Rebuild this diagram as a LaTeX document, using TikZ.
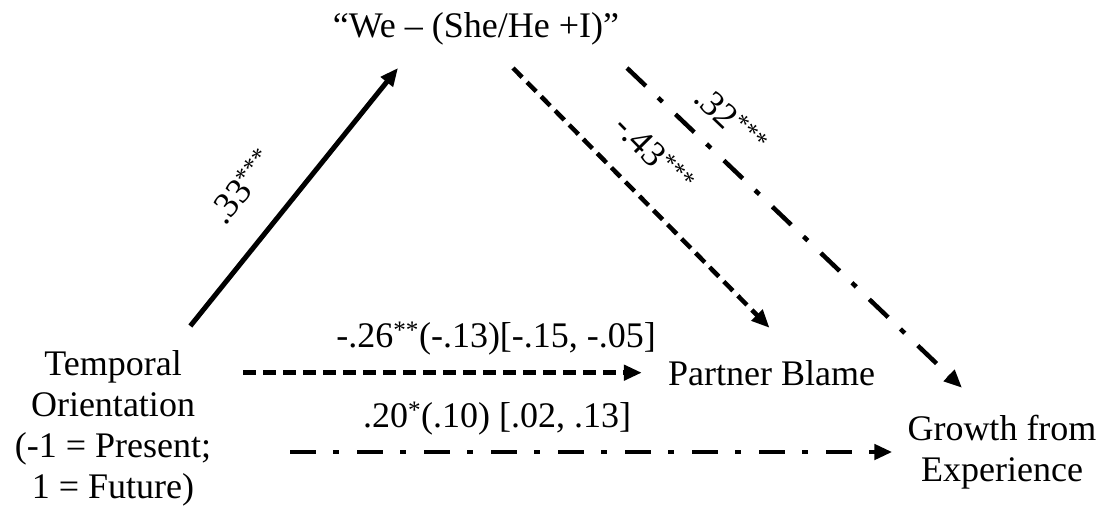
\documentclass[tikz,border=0pt]{standalone}
\usepackage{fontspec}
\setmainfont{Liberation Serif}
\usetikzlibrary{arrows.meta,positioning}
\tikzset{
  var/.style={font=\fontsize{36}{41}\selectfont,align=center,inner sep=2pt},
  coef/.style={font=\fontsize{36}{41}\selectfont,inner sep=2pt},
  direct/.style={line width=5pt,-{Triangle[length=18pt,width=15pt]}},
  dashpath/.style={line width=4.5pt,dash pattern=on 13pt off 7pt,-{Triangle[length=18pt,width=15pt]}},
  dotpath/.style={line width=4.5pt,dash pattern=on 26pt off 17pt on 6pt off 18pt,-{Triangle[length=18pt,width=15pt]}},
}

\begin{document}
\begin{tikzpicture}[x=1pt,y=-1pt]
    \useasboundingbox (0,0) rectangle (1106,517);
    \node[var,anchor=base] (we) at (476,37) {“We – (She/He +I)”};
    \node[var] (temp) at (113,428) {Temporal\\Orientation\\(-1 = Present;\\1 = Future)};
    \node[var,anchor=base] (blame) at (771.5,385) {Partner Blame};
    \node[var] (growth) at (1002,452) {Growth from\\Experience};
    % temporal orientation -> mediator
    \draw[direct] ([shift={(-23,-22)}]temp.north east) -- ([shift={(-78,31)}]we.base)
      node[coef,sloped,above=30pt,pos=0.425] {.33\textsuperscript{***}};
    % mediator -> both outcomes
    \draw[dashpath] ([shift={(37,31)}]we.base) -- ([shift={(-2,-30)}]blame.north)
      node[coef,sloped,above=23pt,pos=0.44] {-.43\textsuperscript{***}};
    \draw[dotpath] ([shift={(151,31)}]we.base) -- ([shift={(-40,-25)}]growth.north)
      node[coef,sloped,above=17pt,pos=0.24] {.32\textsuperscript{***}};
    % direct paths
    \draw[dashpath,shorten <=30pt,shorten >=24pt] (temp.east |- blame) -- (blame.west)
      node[coef,above=13pt,pos=0.625] {-.26\textsuperscript{**}(-.13)[-.15, -.05]};
    \draw[dotpath,shorten <=77pt,shorten >=13pt] (temp.east |- growth) -- (growth.west)
      node[coef,above=13pt,pos=0.41] {.20\textsuperscript{*}(.10) [.02, .13]};
\end{tikzpicture}
\end{document}
